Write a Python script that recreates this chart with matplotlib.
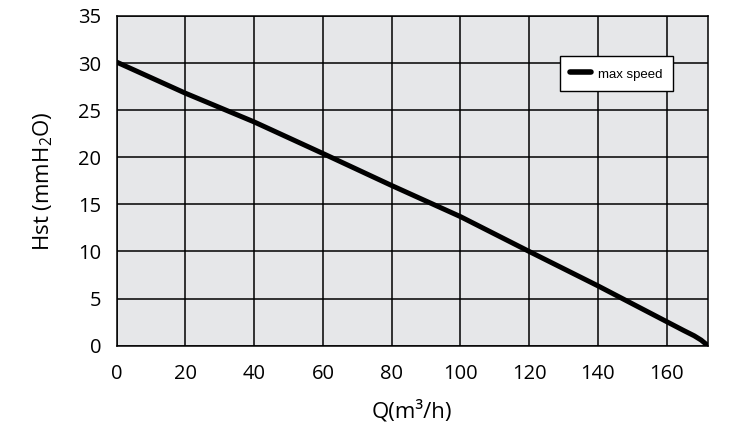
import matplotlib
matplotlib.use("Agg")
import matplotlib.pyplot as plt

# Data
flow = [0, 20, 40, 60, 80, 100, 120, 140, 160, 165, 168, 170, 172]
head = [30.1, 26.8, 23.75, 20.4, 17.0, 13.7, 10.0, 6.35, 2.55, 1.6, 1.05, 0.6, 0.0]
series_label = "max speed"
x_ticks = [0, 20, 40, 60, 80, 100, 120, 140, 160]
y_ticks = [0, 5, 10, 15, 20, 25, 30, 35]

plt.rcParams['font.family'] = ['Open Sans', 'DejaVu Sans']
plt.rcParams['mathtext.fontset'] = 'custom'
plt.rcParams['mathtext.rm'] = 'Open Sans'
plt.rcParams['mathtext.it'] = 'Open Sans'

fig = plt.figure(figsize=(7.55, 4.32), dpi=100)
ax = fig.add_axes([0.1546, 0.1998, 0.7831, 0.7632])
ax.set_facecolor('#e6e7e9')

ax.plot(flow, head, color='black', lw=3.6, solid_capstyle='round', label=series_label, zorder=3)

ax.set_xlim(0, 172)
ax.set_ylim(0, 35)
ax.set_xticks(x_ticks)
ax.set_yticks(y_ticks)
ax.grid(True, color='black', lw=1.1)
ax.set_axisbelow(True)
for s in ax.spines.values():
    s.set_color('black')
    s.set_linewidth(1.1)
ax.tick_params(length=0, labelsize=14.5, colors='black')
ax.tick_params(axis='y', pad=11)
ax.tick_params(axis='x', pad=13)

ax.set_xlabel('Q(m³/h)', fontsize=16, labelpad=12, color='black')
ax.set_ylabel(r'Hst (mmH$_2$O)', fontsize=16, labelpad=17, color='black')

leg = ax.legend(loc='upper right', bbox_to_anchor=(0.941, 0.879), borderaxespad=0,
                fancybox=False, edgecolor='black', framealpha=1,
                prop={'family': 'Liberation Sans', 'size': 9.5},
                handlelength=1.55, handleheight=1.25, handletextpad=0.55, borderpad=0.8)
leg.get_frame().set_linewidth(1.0)
for h in leg.get_lines():
    h.set_linewidth(4)

fig.savefig('out.png', dpi=100)
